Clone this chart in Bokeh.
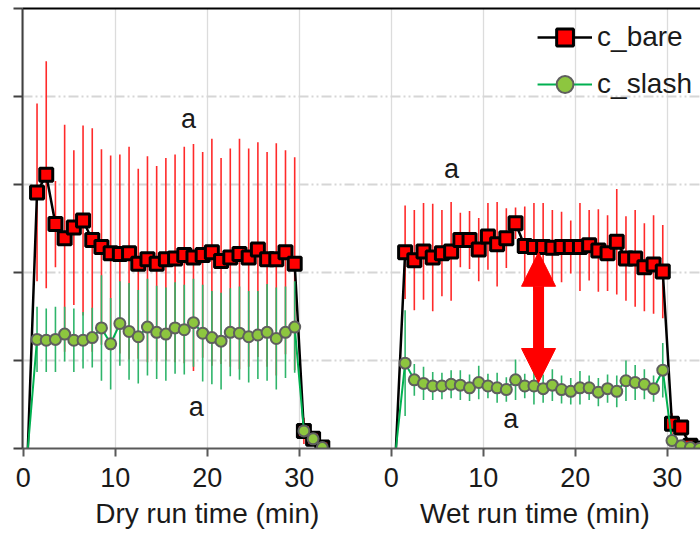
from bokeh.plotting import figure
from bokeh.layouts import column
from bokeh.models import (Range1d, FixedTicker, LinearAxis, Label, Arrow, NormalHead,
                          ColumnDataSource, Legend, LegendItem)
from bokeh.core.properties import value
from bokeh.embed import file_html
from bokeh.resources import INLINE

# ---------------- data ----------------
# sample times (min) of the dry run and of the wet run
time_dry = [0.5, 1.5, 2.5, 3.5, 4.5, 5.5, 6.5, 7.5, 8.5, 9.5, 10.5, 11.5, 12.5, 13.5, 14.5,
            15.5, 16.5, 17.5, 18.5, 19.5, 20.5, 21.5, 22.5, 23.5, 24.5, 25.5, 26.5, 27.5,
            28.5, 29.5, 30.5, 31.5, 32.5]
time_wet = [0.5, 1.5, 2.5, 3.5, 4.5, 5.5, 6.5, 7.5, 8.5, 9.5, 10.5, 11.5, 12.5, 13.5, 14.5,
            15.5, 16.5, 17.5, 18.5, 19.5, 20.5, 21.5, 22.5, 23.5, 24.5, 25.5, 26.5, 27.5,
            28.5, 29.5, 30.5, 31.5, 32.5, 33.5]
WET_OFFSET = 40  # the wet run is drawn after the dry run on the same axis

dry_bare = [0.0, 2.91, 3.11, 2.55, 2.39, 2.51, 2.59, 2.37, 2.29, 2.22, 2.21, 2.22, 2.10, 2.15,
            2.10, 2.15, 2.16, 2.20, 2.17, 2.20, 2.23, 2.13, 2.17, 2.21, 2.17, 2.26, 2.15, 2.15,
            2.23, 2.10, 0.20, 0.11, 0.01]
dry_bare_sd = [0.0, 1.01, 1.29, 0.49, 1.29, 0.88, 1.08, 1.27, 1.11, 1.11, 1.13, 1.21, 1.08, 1.17,
               1.11, 1.15, 1.18, 1.23, 1.29, 1.17, 1.29, 1.17, 1.24, 1.31, 1.24, 1.22, 1.22, 1.32,
               1.16, 1.21, 0.15, 0.05, 0.03]
dry_slash = [0.0, 1.24, 1.23, 1.24, 1.30, 1.23, 1.23, 1.26, 1.37, 1.19, 1.42, 1.33, 1.27, 1.38,
             1.32, 1.30, 1.37, 1.35, 1.43, 1.31, 1.26, 1.22, 1.32, 1.31, 1.27, 1.29, 1.32, 1.25,
             1.32, 1.38, 0.20, 0.11, 0.01]
dry_slash_sd = [0.0, 0.37, 0.36, 0.37, 0.31, 0.36, 0.32, 0.34, 0.60, 0.52, 0.48, 0.55, 0.53, 0.55,
                0.53, 0.53, 0.52, 0.51, 0.50, 0.55, 0.53, 0.55, 0.50, 0.53, 0.52, 0.50, 0.55, 0.58,
                0.52, 0.52, 0.0, 0.0, 0.0]
wet_bare = [0.0, 2.23, 2.14, 2.24, 2.17, 2.22, 2.24, 2.37, 2.37, 2.26, 2.41, 2.32, 2.39, 2.56,
            2.30, 2.29, 2.29, 2.28, 2.29, 2.29, 2.29, 2.31, 2.25, 2.22, 2.35, 2.16, 2.16, 2.06,
            2.09, 2.01, 0.28, 0.24, 0.03, 0.0]
wet_bare_sd = [0.0, 0.53, 0.57, 0.55, 0.61, 0.49, 0.56, 0.31, 0.33, 0.36, 0.38, 0.48, 0.34, 0.18,
               0.45, 0.50, 0.50, 0.43, 0.40, 0.30, 0.50, 0.40, 0.47, 0.43, 0.60, 0.48, 0.55, 0.50,
               0.56, 0.53, 0.12, 0.05, 0.0, 0.0]
wet_slash = [0.0, 0.97, 0.78, 0.74, 0.71, 0.71, 0.73, 0.72, 0.69, 0.75, 0.71, 0.69, 0.67, 0.78,
             0.71, 0.71, 0.68, 0.72, 0.67, 0.65, 0.69, 0.69, 0.64, 0.68, 0.65, 0.77, 0.75, 0.73,
             0.68, 0.89, 0.09, 0.03, 0.01, 0.0]
wet_slash_sd = [0.0, 0.60, 0.18, 0.19, 0.16, 0.15, 0.16, 0.17, 0.15, 0.19, 0.14, 0.17, 0.14, 0.23,
                0.14, 0.21, 0.16, 0.18, 0.16, 0.15, 0.19, 0.14, 0.16, 0.16, 0.18, 0.23, 0.20, 0.17,
                0.15, 0.31, 0.0, 0.0, 0.0, 0.0]

x_ticks = [0, 10, 20, 30, 40, 50, 60, 70]
x_tick_labels = ["0", "10", "20", "30", "0", "10", "20", "30"]
y_ticks = [0, 1, 2, 3, 4, 5]
axis_titles = ["Dry run time (min)", "Wet run time (min)"]
axis_title_x = [20.0, 55.6]
letters = ["a", "a", "a", "a"]
letter_x = [17.97, 18.8, 46.55, 52.97]
letter_y = [3.75, 0.475, 3.18, 0.33]
arrow_x = 56.0
arrow_y_low = 0.75
arrow_y_high = 2.23

FONT = "Liberation Sans"
TEXT = "#1a1a1a"
XR = Range1d(-0.08, 73.6)

# ---------------- main figure ----------------
p = figure(width=700, height=497, output_backend="svg", toolbar_location=None,
           x_range=XR, y_range=Range1d(0, 5),
           min_border_left=22, min_border_right=0, min_border_top=8, min_border_bottom=49)
p.outline_line_color = None
p.background_fill_color = "white"

xa = p.below[0]
ya = p.left[0]

# top border line
top = LinearAxis(ticker=FixedTicker(ticks=[]), axis_line_color="black", axis_line_width=2,
                 major_tick_line_color=None, minor_tick_line_color=None,
                 major_tick_out=0, major_tick_in=0, major_label_standoff=0,
                 major_label_text_font_size="1px")
p.add_layout(top, "above")

# x axis
xa.ticker = FixedTicker(ticks=x_ticks)
xa.major_label_overrides = {t: l for t, l in zip(x_ticks, x_tick_labels)}
xa.axis_line_color = "#595959"
xa.axis_line_width = 2
xa.major_tick_line_color = "#595959"
xa.major_tick_line_width = 2
xa.major_tick_out = 8
xa.major_tick_in = 0
xa.minor_tick_line_color = None
xa.major_label_text_font = FONT
xa.major_label_text_font_size = "27px"
xa.major_label_text_color = TEXT
xa.major_label_standoff = 11

# y axis (labels are outside the visible area)
ya.ticker = FixedTicker(ticks=y_ticks)
ya.major_label_overrides = {t: "" for t in y_ticks}
ya.axis_line_color = "#404040"
ya.axis_line_width = 2
ya.major_tick_line_color = "#404040"
ya.major_tick_line_width = 2
ya.major_tick_out = 9
ya.major_tick_in = 0
ya.minor_tick_line_color = None
ya.major_label_standoff = 0

# grids
p.xgrid.ticker = FixedTicker(ticks=x_ticks)
p.xgrid.grid_line_color = "#dcdcdc"
p.xgrid.grid_line_width = 1.3
p.ygrid.ticker = FixedTicker(ticks=y_ticks)
p.ygrid.grid_line_color = "#d6d6d6"
p.ygrid.grid_line_width = 2
p.ygrid.grid_line_dash = "10 3 2 3 2 3"


def series(times, vals, sds, offset):
    xs = [t + offset for t in times]
    return ColumnDataSource(dict(x=xs, y=vals,
                                 lo=[v - s for v, s in zip(vals, sds)],
                                 hi=[v + s for v, s in zip(vals, sds)]))


runs = [(time_dry, 0), (time_wet, WET_OFFSET)]
bare_sets = [dry_bare, wet_bare]
bare_sds = [dry_bare_sd, wet_bare_sd]
slash_sets = [dry_slash, wet_slash]
slash_sds = [dry_slash_sd, wet_slash_sd]

bare_r = []
slash_r = []
# bare series first
for (times, off), vals, sds in zip(runs, bare_sets, bare_sds):
    src = series(times, vals, sds, off)
    msrc = series(times[1:], vals[1:], sds[1:], off)
    p.segment(x0="x", y0="lo", x1="x", y1="hi", source=msrc, line_color="#ff2a2a", line_width=1.6)
    ln = p.line("x", "y", source=src, line_color="black", line_width=2.5)
    sq = p.scatter("x", "y", source=msrc, marker="square", size=13, fill_color="#ff0000",
                   line_color="black", line_width=3)
    bare_r += [ln, sq]
# slash series on top
for (times, off), vals, sds in zip(runs, slash_sets, slash_sds):
    src = series(times, vals, sds, off)
    msrc = series(times[1:], vals[1:], sds[1:], off)
    p.segment(x0="x", y0="lo", x1="x", y1="hi", source=msrc, line_color="#2fb56b", line_width=1.6)
    ln = p.line("x", "y", source=src, line_color="#00b050", line_width=2)
    ci = p.scatter("x", "y", source=msrc, marker="circle", size=11, fill_color="#8dc63f",
                   line_color="#5f5f5f", line_width=2)
    slash_r += [ln, ci]

# legend
legend = Legend(items=[LegendItem(label="c_bare", renderers=[bare_r[0], bare_r[1]]),
                       LegendItem(label="c_slash", renderers=[slash_r[0], slash_r[1]])],
                location="top_right", margin=8, padding=8, spacing=5,
                glyph_width=55, glyph_height=42, label_height=42, label_standoff=5,
                label_text_font=FONT, label_text_font_size="28px", label_text_color=TEXT,
                border_line_color=None, background_fill_alpha=0)
p.add_layout(legend)

# double arrow
p.add_layout(Arrow(x_start=arrow_x, y_start=arrow_y_low, x_end=arrow_x, y_end=arrow_y_high,
                   start=NormalHead(size=34, fill_color="#ff0000", line_color="#ff0000"),
                   end=NormalHead(size=34, fill_color="#ff0000", line_color="#ff0000"),
                   line_color="#ff0000", line_width=11))

# letters
for t, lx, ly in zip(letters, letter_x, letter_y):
    p.add_layout(Label(x=lx, y=ly, text=t, text_font=FONT, text_font_size="27px",
                       text_color=TEXT, text_align="center", text_baseline="alphabetic"))

# ---------------- strip with the two axis titles ----------------
p2 = figure(width=700, height=36, output_backend="svg", toolbar_location=None,
            x_range=XR, y_range=Range1d(0, 1), x_axis_type=None, y_axis_type=None,
            min_border_left=22, min_border_right=0, min_border_top=0, min_border_bottom=0)
p2.outline_line_color = None
p2.xgrid.visible = False
p2.ygrid.visible = False
tsrc = ColumnDataSource(dict(x=axis_title_x, y=[1, 1], text=axis_titles))
p2.text(x="x", y="y", text="text", source=tsrc, text_font=value(FONT), text_font_size="28px",
        text_color=TEXT, text_align="center", text_baseline="top")

layout = column(p, p2, spacing=0)
open("out.html", "w").write(file_html(layout, INLINE))
